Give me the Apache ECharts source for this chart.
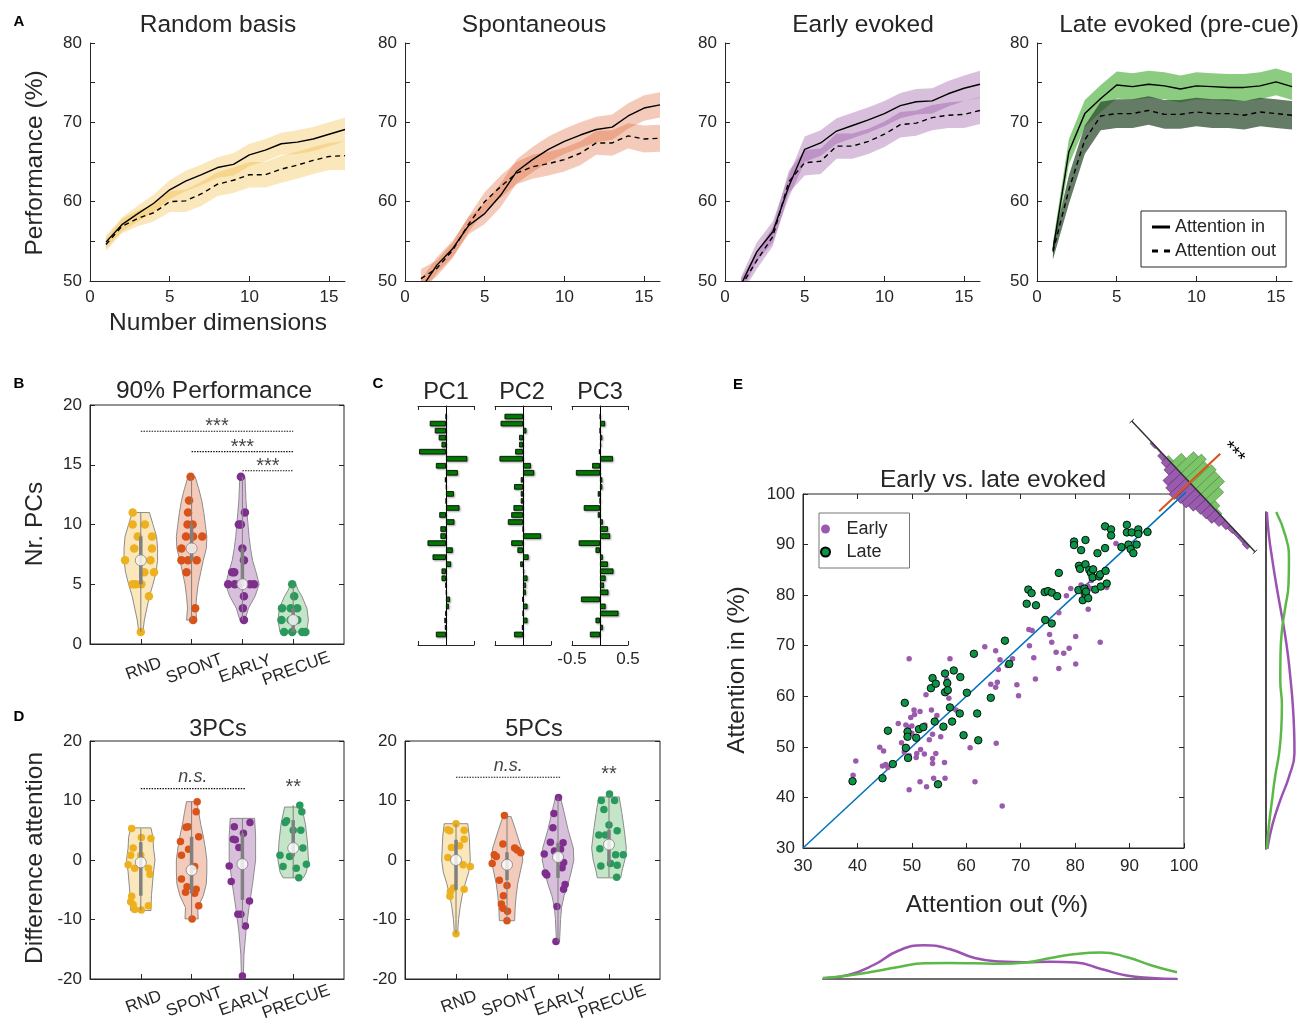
<!DOCTYPE html>
<html><head><meta charset="utf-8">
<script src="https://cdn.jsdelivr.net/npm/echarts@6/dist/echarts.min.js"></script>
<style>html,body{margin:0;padding:0;background:#fff}#c{width:1300px;height:1028px}</style>
</head><body><div id="c"></div><script>
const FONT = '"Liberation Sans", Arial, Helvetica, sans-serif';
const INK = '#262626';

// ---------------- Panel A data ----------------
const DIMS = [1,2,3,4,5,6,7,8,9,10,11,12,13,14,15,16];
const RB_IN  = [54.9,57.1,58.5,59.8,61.5,62.6,63.4,64.3,64.7,65.9,66.5,67.3,67.5,67.9,68.5,69.1];
const RB_OUT = [54.6,56.9,57.9,58.6,60.0,60.1,61.0,62.2,62.7,63.4,63.4,64.1,64.6,65.2,65.7,65.8];
const RB_IN_SEM  = [0.8,0.9,1.0,1.1,1.2,1.3,1.3,1.3,1.4,1.4,1.4,1.4,1.5,1.5,1.5,1.5];
const RB_OUT_SEM = [0.8,0.9,1.0,1.1,1.3,1.4,1.5,1.5,1.6,1.6,1.6,1.7,1.7,1.7,1.7,1.8];
const SP_IN  = [49.0,52.0,54.1,57.0,58.5,60.8,63.8,65.3,66.6,67.6,68.4,69.1,69.4,70.8,71.8,72.2];
const SP_OUT = [50.3,51.6,53.9,57.2,60.0,61.9,63.6,64.4,64.8,65.3,66.1,67.4,67.4,68.3,67.9,68.0];
const SP_IN_SEM  = [1.2,1.0,1.0,1.1,1.3,1.5,1.5,1.6,1.6,1.6,1.6,1.6,1.6,1.6,1.6,1.6];
const SP_OUT_SEM = [1.2,1.0,1.0,1.0,1.2,1.4,1.4,1.5,1.5,1.5,1.5,1.5,1.6,1.6,1.7,1.7];
const EE_IN  = [49.5,53.7,56.2,61.9,66.6,67.4,68.9,69.6,70.3,71.1,72.1,72.6,72.7,73.6,74.3,74.8];
const EE_OUT = [49.3,52.6,55.6,62.5,64.9,65.1,67.0,67.0,67.6,68.5,69.7,69.9,70.6,70.9,71.0,71.5];
const EE_IN_SEM  = [1.0,1.2,1.3,1.4,1.6,1.6,1.6,1.6,1.6,1.6,1.6,1.6,1.6,1.6,1.6,1.7];
const EE_OUT_SEM = [1.0,1.1,1.2,1.4,1.6,1.6,1.6,1.6,1.6,1.6,1.6,1.6,1.6,1.6,1.7,1.7];
const LE_IN  = [53.9,66.3,71.1,73.0,74.7,74.5,74.8,74.6,74.2,74.6,74.5,74.4,74.4,74.6,75.1,74.5];
const LE_OUT = [53.7,61.5,67.8,70.8,71.1,71.1,71.5,71.0,71.0,71.3,71.1,71.1,70.9,71.3,71.1,70.9];
const LE_IN_SEM  = [1.0,1.6,1.7,1.7,1.7,1.7,1.7,1.7,1.7,1.7,1.7,1.7,1.7,1.7,1.7,1.7];
const LE_OUT_SEM = [1.0,1.8,1.8,1.8,1.8,1.8,1.8,1.8,1.8,1.8,1.8,1.8,1.8,1.8,1.8,1.8];

// ---------------- Violin data: points [jitter, value], shapes [value, halfwidth], boxes [lo,q1,med,q3,hi] ----------------
const CATS = ['RND','SPONT','EARLY','PRECUE'];
const B_RND_PTS = [[-0.16,11],[-0.16,10],[0.08,10],[-0.06,9],[0.22,9],[-0.13,8],[0.22,8],[-0.31,7],[0,7],[0.19,7],[0.07,6],[0.26,6],[-0.16,5],[-0.10,5],[0.01,5],[0.16,4],[0,1]];
const B_SPONT_PTS = [[-0.02,14],[-0.05,12],[-0.07,11],[-0.08,10],[0.02,10],[-0.11,9],[0.03,9],[0.21,9],[-0.2,8],[0,8],[-0.2,7],[-0.07,7],[0.1,7],[-0.1,6],[0.07,3],[0.03,2]];
const B_EARLY_PTS = [[-0.03,14],[0.05,11],[-0.07,10],[-0.03,10],[0,8],[0.03,7],[-0.2,6],[-0.16,6],[-0.28,5],[-0.15,5],[-0.05,5],[0.15,5],[0.23,5],[0.03,4],[0.01,3],[0.03,2]];
const B_PRECUE_PTS = [[-0.02,5],[0.02,4],[-0.22,3],[-0.05,3],[0.08,3],[-0.23,2],[-0.05,2],[0.08,2],[-0.18,1],[-0.02,1],[0.18,1],[0.24,1]];
const B_RND_SHAPE = [[1,0.04],[2,0.07],[3,0.12],[4,0.17],[5,0.24],[6,0.30],[7,0.33],[8,0.33],[9,0.31],[10,0.24],[11,0.17]];
const B_SPONT_SHAPE = [[2,0.1],[3,0.08],[4,0.1],[5,0.13],[6,0.18],[7,0.23],[8,0.29],[9,0.30],[10,0.27],[11,0.24],[12,0.20],[13,0.14],[14,0.07]];
const B_EARLY_SHAPE = [[2,0.05],[3,0.12],[4,0.25],[5,0.33],[6,0.27],[7,0.2],[8,0.16],[9,0.13],[10,0.11],[11,0.09],[12,0.07],[13,0.06],[14,0.05]];
const B_PRECUE_SHAPE = [[1,0.26],[2,0.3],[3,0.27],[4,0.17],[4.5,0.1],[5,0.05]];
const B_BOX = [[1,5,7,9,11],[2,7,8,10,14],[2,5,5,8,14],[1,1,2,3,5]];
const B_SIG = [[1,4,17.8],[2,4,16.1],[3,4,14.5]];

const D3_RND_PTS = [[-0.18,5.3],[0.01,3.8],[0.2,3.6],[-0.15,2.0],[-0.2,0.8],[0,0.8],[-0.25,-0.8],[-0.12,-1.4],[0.15,-1.4],[0.18,-2.4],[-0.18,-6.1],[-0.2,-7.0],[0.15,-7.7],[-0.15,-7.5],[-0.12,-8.3],[0.01,-8.4]];
const D3_SPONT_PTS = [[0.11,9.8],[0.09,8.1],[-0.11,5.5],[-0.07,5.6],[0.14,3.9],[-0.22,3.1],[-0.06,1.8],[-0.2,0.8],[0.06,-1.1],[-0.2,-3.2],[-0.09,-4.5],[0.09,-4.9],[-0.12,-5.4],[0.06,-5.6],[0.14,-7.7],[0.01,-9.9]];
const D3_EARLY_PTS = [[0.15,6.3],[-0.16,5.6],[0.02,4.5],[-0.18,3.5],[-0.14,3.4],[-0.07,2.1],[-0.26,-1.0],[-0.22,-3.6],[0.14,-6.9],[-0.09,-9.1],[-0.03,-9.1],[0.06,-11.1],[0,-19.5]];
const D3_PRECUE_PTS = [[0.13,9.2],[0.17,8.1],[-0.13,6.6],[-0.16,6.3],[0,5.0],[0.15,5.0],[0.19,2.0],[-0.26,0.8],[-0.07,0.6],[0.26,-0.7],[-0.2,-1.1],[0.06,-1.4],[0.11,-3.0]];
const D3_RND_SHAPE = [[-8.5,0.2],[-8,0.2],[-6,0.21],[-4,0.23],[-2,0.25],[0,0.28],[2,0.25],[3.8,0.24],[5.4,0.2]];
const D3_SPONT_SHAPE = [[-9.9,0.13],[-8,0.12],[-6,0.23],[-4,0.29],[-2,0.3],[0,0.3],[2,0.27],[4,0.23],[6,0.18],[8,0.14],[9.8,0.1]];
const D3_EARLY_SHAPE = [[-19.5,0.02],[-16,0.03],[-12,0.07],[-8,0.13],[-4,0.2],[0,0.26],[4,0.26],[7,0.24]];
const D3_PRECUE_SHAPE = [[-3,0.2],[-2,0.26],[0,0.3],[3,0.28],[6,0.24],[8.9,0.17]];
const D3_BOX = [[-8.5,-6,-0.4,3,5.3],[-9.9,-5.6,-1.7,3.9,9.8],[-11.1,-6.7,-0.7,4.5,7.0],[-3,0.6,2.0,6.7,9.2]];

const D5_RND_PTS = [[0,6.1],[-0.16,5.1],[-0.12,4.9],[0.16,5.0],[0.16,3.5],[0.07,2.4],[-0.09,2.1],[-0.16,0.4],[0.14,-0.8],[0.28,-1.1],[-0.05,-4.7],[0.16,-4.9],[-0.11,-5.3],[-0.12,-6.1],[0,-12.4]];
const D5_SPONT_PTS = [[-0.05,7.5],[-0.08,2.7],[0.15,2.0],[0.2,1.7],[0.27,1.2],[-0.25,0.9],[-0.21,0.6],[-0.29,-0.6],[-0.15,-3.4],[0,-4.3],[-0.07,-6.0],[-0.11,-7.4],[-0.08,-8.1],[0.01,-8.6],[0,-10.2]];
const D5_EARLY_PTS = [[0.01,10.5],[-0.08,7.8],[-0.1,5.4],[-0.15,3.0],[0.1,2.9],[0.05,1.8],[-0.07,1.5],[-0.27,1.0],[0.11,-0.4],[0.08,-1.3],[-0.25,-2.2],[-0.22,-2.5],[0.14,-4.1],[0.11,-4.9],[-0.02,-7.8],[-0.04,-13.7]];
const D5_PRECUE_PTS = [[0.01,11.1],[-0.15,10.0],[0.11,10.0],[-0.1,8.5],[0,5.9],[0.16,4.9],[-0.2,4.2],[-0.07,4.2],[-0.18,1.9],[0.13,0.9],[0.28,0.9],[0.03,-0.6],[0.16,-0.9],[-0.16,-1.0],[0.15,-2.9]];
const D5_RND_SHAPE = [[-12.4,0.03],[-10,0.05],[-8,0.08],[-6,0.12],[-4,0.18],[-2,0.25],[0,0.28],[2,0.27],[4,0.26],[6.1,0.23]];
const D5_SPONT_SHAPE = [[-10.2,0.15],[-8,0.16],[-6,0.18],[-4,0.21],[-2,0.26],[0,0.31],[2,0.28],[5,0.17],[7.3,0.08]];
const D5_EARLY_SHAPE = [[-13.7,0.03],[-12,0.04],[-10,0.05],[-8,0.07],[-6,0.12],[-4,0.2],[-2,0.26],[0,0.31],[2,0.3],[5,0.2],[8,0.12],[10.5,0.05]];
const D5_PRECUE_SHAPE = [[-3,0.23],[-2,0.25],[0,0.31],[2,0.34],[5,0.3],[8,0.25],[10.6,0.2]];
const D5_BOX = [[-12.4,-5,0,3.4,6.1],[-10.2,-3.4,-0.8,1.3,7.5],[-13.7,-3.0,0.5,2.9,10.5],[-2.9,-0.6,2.6,5.1,11.1]];

// ---------------- Panel C data ----------------
const PC1 = [0,-0.29,-0.20,-0.13,-0.08,-0.48,0.38,-0.18,0.21,-0.02,0.01,0.14,0,0.24,-0.12,0.15,-0.10,-0.10,-0.33,0.12,-0.24,0.09,-0.08,-0.08,-0.01,0.01,0.07,0.05,-0.01,-0.03,-0.02,-0.18];
const PC2 = [-0.33,-0.40,0.06,-0.07,-0.07,-0.14,-0.42,0.14,0.20,-0.04,-0.16,-0.04,-0.04,-0.17,-0.21,-0.27,0,0.32,-0.21,-0.10,0.10,-0.05,0.02,0.08,0.05,0.05,-0.01,0.08,0,0.08,-0.02,-0.16];
const PC3 = [0.005,0.09,0,0.04,0.02,-0.02,0.23,-0.14,-0.43,0.04,0.04,-0.04,0,-0.29,-0.04,0.05,0.14,0.18,-0.38,-0.08,0.05,0.14,0.24,0.10,0.07,0.15,-0.34,0.10,0.33,-0.08,0.05,-0.18];

// ---------------- Panel E data: [attention out, attention in] ----------------
const EARLY_PTS = [[39.2,44.4],[39.7,47.2],[44.1,49.9],[44.8,49.2],[44.6,46.2],[45.2,46.5],[45.6,45.9],[47.5,54.6],[48.1,50.8],[48.6,49.0],[48.9,54.3],[49.4,53.9],[49.5,41.5],[49.5,48.3],[49.8,55.8],[50.0,54.1],[50.0,52.7],[50.4,57.3],[50.5,56.4],[50.8,47.9],[50.9,48.7],[51.5,57.0],[51.5,43.1],[51.6,49.5],[52.3,48.6],[52.4,54.3],[52.6,60.3],[52.7,42.1],[53.2,51.4],[53.6,57.3],[53.8,52.5],[53.8,47.7],[53.8,46.7],[54.0,43.8],[54.4,48.7],[54.6,56.2],[55.3,52.0],[56.0,46.9],[56.1,43.8],[49.5,67.4],[56.4,63.3],[56.8,59.6],[57.0,67.4],[58.1,57.3],[56.9,57.9],[60.7,49.8],[61.6,43.1],[63.4,69.8],[65.4,69.0],[66.2,67.2],[65.9,65.3],[64.5,62.4],[65.4,61.8],[65.5,50.7],[65.7,62.8],[66.6,38.3],[67.5,66.1],[68.5,67.4],[69.3,62.3],[69.6,60.1],[71.5,73.2],[72.1,73.0],[71.6,70.0],[72.4,67.6],[72.7,63.4],[75.3,72.2],[75.7,70.7],[76.5,68.7],[77.0,65.5],[77.0,76.5],[77.9,68.5],[78.4,79.9],[78.9,69.5],[79.2,81.3],[80.1,71.8],[80.1,66.4],[81.1,82.0],[81.5,80.2],[82.4,77.2],[83.0,81.3],[84.6,70.7],[85.8,81.5],[87.5,90.2],[83.0,82.9],[82.3,81.8]];
const LATE_PTS = [[39.1,43.2],[44.6,43.8],[45.6,53.2],[46.5,46.6],[48.7,58.7],[48.9,49.8],[49.2,53.0],[49.2,52.0],[49.3,47.8],[50.8,51.8],[51.3,53.5],[52.1,53.9],[53.5,61.6],[53.8,63.6],[54.2,55.0],[54.4,62.5],[55.8,54.0],[56.1,64.5],[56.1,60.8],[56.5,62.6],[56.6,61.2],[57.0,57.8],[57.4,55.0],[57.7,65.1],[58.8,56.6],[58.9,63.8],[59.5,52.3],[60.1,60.7],[61.4,68.4],[62.0,56.6],[62.2,51.3],[64.5,59.7],[67.1,71.0],[67.9,66.4],[54.8,42.6],[71.1,78.3],[71.4,81.1],[72.0,80.4],[72.8,78.0],[74.4,80.6],[74.5,75.1],[75.0,80.8],[75.7,74.4],[75.7,80.5],[76.7,79.8],[77.0,84.4],[79.8,90.6],[79.8,89.9],[80.6,81.0],[80.7,85.8],[80.9,85.2],[81.1,88.9],[81.4,79.0],[81.7,81.3],[81.9,90.9],[81.9,86.1],[81.9,80.2],[82.0,80.7],[82.4,79.4],[82.6,85.0],[82.9,84.4],[83.2,83.5],[83.3,85.1],[83.7,81.1],[84.1,88.3],[84.4,83.7],[84.6,84.1],[84.7,81.7],[85.5,89.3],[85.6,84.8],[85.8,82.3],[85.5,93.6],[86.6,93.0],[86.6,91.8],[88.5,89.5],[89.5,93.9],[89.5,92.4],[89.8,90.0],[90.2,89.1],[90.4,92.4],[90.7,88.3],[91.3,90.0],[91.6,93.0],[91.6,92.1],[93.3,92.5]];
const IDENTITY = [[30,30],[107.4,107.4]];
// diagonal histogram of (in - out)
const HIST_BINS  = [12.8,11.2,9.6,8.0,6.4,4.8,3.2,1.6,0,-1.6,-3.2,-4.8,-6.4,-8.0,-9.6,-11.2,-12.8,-14.4,-16.0,-17.6];
const HIST_LATE  = [0,0,0,1.5,7,12,14,12.5,14,13,13,9,3,1,0,0,0,0,0,0];
const HIST_EARLY = [1,0.5,2.5,3.5,5,9,10.5,11.5,10.5,10,8.5,7,6.5,6,4.5,3,2,1.5,1.5,2];
const HIST_BIN_W = 1.6;
const MEAN_SHIFT = [1.2];
// marginal densities
const KDE_X = [30,35,40,45,50,55,60,65,70,75,80,85,90,95,100];
const KDE_OUT_EARLY = [0.5,4,14,28.5,33.7,30,21,17.5,16.7,17.2,16.5,10,3.5,1,0];
const KDE_OUT_LATE  = [1,3.5,7.5,12,15.8,16,15.7,15.2,16.5,21,25,26.5,22,13.5,6.7];
const KDE_Y = [100,95,90,85,80,75,70,65,60,55,50,45,40,35,30];
const KDE_IN_EARLY = [1,3.5,7.5,12,17,22,26,29,31.5,33,33.5,27,16.5,7.5,1.5];
const KDE_IN_LATE  = [12,23,27,26.5,22.5,18.5,17,16.8,18.7,18,15.5,10.7,7,3.5,1];

// ---------------- build ----------------
const chart = echarts.init(document.getElementById('c'), null, {renderer:'canvas'});
const grid = [], xAxis = [], yAxis = [], series = [], graphic = [];
const addGrid = g => (grid.push(g), grid.length - 1);
const addX = a => (xAxis.push(Object.assign({splitLine:{show:false}}, a)), xAxis.length - 1);
const addY = a => (yAxis.push(Object.assign({splitLine:{show:false}}, a)), yAxis.length - 1);
const lbl = e => Object.assign({color:INK, fontSize:17, fontFamily:FONT}, e);
const tick = e => Object.assign({show:true, inside:true, length:5, lineStyle:{color:INK, width:1}}, e);
const axLine = {show:true, onZero:false, lineStyle:{color:INK, width:1}};

function addBand(xa, ya, mean, sem, fill) {
  const data = DIMS.map((d,k) => [d, mean[k]-sem[k], mean[k]+sem[k]]);
  series.push({type:'custom', xAxisIndex:xa, yAxisIndex:ya, clip:true, silent:true, z:2,
    data, encode:{x:0, y:[1,2]},
    renderItem(params, api) {
      if (params.dataIndex !== 0) return;
      const up = data.map(p => api.coord([p[0], p[2]]));
      const lo = data.map(p => api.coord([p[0], p[1]])).reverse();
      return {type:'polygon', shape:{points:up.concat(lo)}, style:{fill, stroke:null}};
    }});
}

const A_PANELS = [
  [RB_IN, RB_OUT, RB_IN_SEM, RB_OUT_SEM, 'rgba(237,177,32,0.30)', 'rgba(237,177,32,0.30)'],
  [SP_IN, SP_OUT, SP_IN_SEM, SP_OUT_SEM, 'rgba(217,83,25,0.30)', 'rgba(217,83,25,0.30)'],
  [EE_IN, EE_OUT, EE_IN_SEM, EE_OUT_SEM, 'rgba(126,47,142,0.30)', 'rgba(126,47,142,0.30)'],
  [LE_IN, LE_OUT, LE_IN_SEM, LE_OUT_SEM, 'rgba(62,170,45,0.60)', 'rgba(40,72,42,0.72)']
];
const A_LEFT = [90, 405, 725, 1037];
A_PANELS.forEach((p, i) => {
  const g = addGrid({left:A_LEFT[i], top:43, width:255, height:238});
  const xa = addX({gridIndex:g, type:'value', min:0, max:16, axisLine:axLine,
    axisTick:tick({customValues:[0,5,10,15]}), axisLabel:lbl({customValues:[0,5,10,15], margin:8})});
  const ya = addY({gridIndex:g, type:'value', min:50, max:80, axisLine:axLine,
    axisTick:tick({customValues:[50,55,60,65,70,75,80]}), axisLabel:lbl({customValues:[50,60,70,80], margin:8})});
  addBand(xa, ya, p[0], p[2], p[4]);
  addBand(xa, ya, p[1], p[3], p[5]);
  series.push({type:'line', name:'Attention in', xAxisIndex:xa, yAxisIndex:ya, z:4, symbol:'none', silent:true,
    data:DIMS.map((d,k)=>[d,p[0][k]]), lineStyle:{color:'#000', width:1.4}, itemStyle:{color:'#000'}});
  series.push({type:'line', name:'Attention out', xAxisIndex:xa, yAxisIndex:ya, z:4, symbol:'none', silent:true,
    data:DIMS.map((d,k)=>[d,p[1][k]]), lineStyle:{color:'#000', width:1.4, type:[5,4]}, itemStyle:{color:'#000'}});
});

// ---------------- violins ----------------
const DOT_COLORS = ['#EDB120','#D95319','#7E2F8E','#2A9A5C'];
const VIOLIN_FILLS = ['rgba(237,177,32,0.30)','rgba(217,83,25,0.30)','rgba(126,47,142,0.30)','rgba(70,175,85,0.32)'];
function violinPanel(box, ymin, ymax, yticks, pts, shapes, boxes, dotSize, labelMargin) {
  const g = addGrid(Object.assign({show:true, borderColor:INK, borderWidth:1, backgroundColor:'rgba(0,0,0,0)'}, box));
  const xa = addX({gridIndex:g, type:'value', min:0, max:5, axisLine:axLine,
    axisTick:tick({customValues:[1,2,3,4]}),
    axisLabel:lbl({customValues:[1,2,3,4], formatter:v => CATS[Math.round(v)-1] || '', rotate:20, align:'center', verticalAlign:'top', margin:labelMargin})});
  const ya = addY({gridIndex:g, type:'value', min:ymin, max:ymax, axisLine:axLine,
    axisTick:tick({customValues:yticks}), axisLabel:lbl({customValues:yticks, margin:8})});
  addY({gridIndex:g, type:'value', position:'right', min:ymin, max:ymax, axisLine:{show:false, onZero:false},
    axisTick:tick({customValues:yticks}), axisLabel:{show:false}});
  series.push({type:'custom', xAxisIndex:xa, yAxisIndex:ya, z:2, silent:true,
    data:shapes.map((s,i)=>[i+1, s[s.length-1][0]]), encode:{x:0, y:1},
    renderItem(params, api) {
      const i = params.dataIndex, c = i + 1, s = shapes[i];
      const right = s.map(p => api.coord([c + p[1], p[0]]));
      const left = s.slice().reverse().map(p => api.coord([c - p[1], p[0]]));
      return {type:'polygon', shape:{points:right.concat(left)}, style:{fill:VIOLIN_FILLS[i], stroke:'#8c8c8c', lineWidth:1}};
    }});
  pts.forEach((arr, i) => {
    series.push({type:'scatter', xAxisIndex:xa, yAxisIndex:ya, z:3, silent:true, symbolSize:dotSize,
      data:arr.map(p => [i + 1 + p[0], p[1]]), itemStyle:{color:DOT_COLORS[i], opacity:1}});
  });
  series.push({type:'custom', xAxisIndex:xa, yAxisIndex:ya, z:4, silent:true,
    data:boxes.map((b,i)=>[i+1].concat(b)), encode:{x:0, y:[1,5]},
    renderItem(params, api) {
      const c = api.value(0);
      const a = api.coord([c, api.value(1)]), b = api.coord([c, api.value(5)]);
      const q1 = api.coord([c, api.value(2)]), q3 = api.coord([c, api.value(4)]);
      return {type:'group', children:[
        {type:'line', shape:{x1:a[0], y1:a[1], x2:b[0], y2:b[1]}, style:{stroke:'#808080', lineWidth:1}},
        {type:'line', shape:{x1:q1[0], y1:q1[1], x2:q3[0], y2:q3[1]}, style:{stroke:'#808080', lineWidth:3.5}}
      ]};
    }});
  series.push({type:'scatter', xAxisIndex:xa, yAxisIndex:ya, z:5, silent:true, symbolSize:11,
    data:boxes.map((b,i)=>[i+1, b[2]]), itemStyle:{color:'#fff', borderColor:'#808080', borderWidth:1}});
  return {xa, ya};
}
function sigLine(v, x1, x2, y, text, italic, dist, size) {
  series.push({type:'line', xAxisIndex:v.xa, yAxisIndex:v.ya, z:6, silent:true, symbol:'none',
    data:[[x1,y],[x2,y]], lineStyle:{color:'#111', width:1.1, type:[1.5,1.2]}});
  sigText(v, (x1+x2)/2, y, text, italic, 'top', dist, size);
}
function sigText(v, x, y, text, italic, pos, dist, size) {
  series.push({type:'scatter', xAxisIndex:v.xa, yAxisIndex:v.ya, z:6, silent:true, symbolSize:1,
    itemStyle:{color:'rgba(0,0,0,0)'}, data:[[x,y]],
    label:{show:true, position:pos, distance:dist, formatter:text, color:'#111', fontSize:size,
      fontStyle:italic ? 'italic' : 'normal', fontFamily:FONT}});
}

const vB = violinPanel({left:90, top:405, width:254, height:239}, 0, 20, [0,5,10,15,20],
  [B_RND_PTS,B_SPONT_PTS,B_EARLY_PTS,B_PRECUE_PTS], [B_RND_SHAPE,B_SPONT_SHAPE,B_EARLY_SHAPE,B_PRECUE_SHAPE], B_BOX, 8.5, 17);
B_SIG.forEach(s => sigLine(vB, s[0], s[1], s[2], '***', false, -6, 20));

const vD3 = violinPanel({left:90, top:741, width:254, height:238}, -20, 20, [-20,-10,0,10,20],
  [D3_RND_PTS,D3_SPONT_PTS,D3_EARLY_PTS,D3_PRECUE_PTS], [D3_RND_SHAPE,D3_SPONT_SHAPE,D3_EARLY_SHAPE,D3_PRECUE_SHAPE], D3_BOX, 7.5, 15);
sigLine(vD3, 1, 3.05, 12, 'n.s.', true, 2, 18);
sigText(vD3, 4, 12.2, '**', false, 'inside', 0, 20);

const vD5 = violinPanel({left:405, top:741, width:255, height:238}, -20, 20, [-20,-10,0,10,20],
  [D5_RND_PTS,D5_SPONT_PTS,D5_EARLY_PTS,D5_PRECUE_PTS], [D5_RND_SHAPE,D5_SPONT_SHAPE,D5_EARLY_SHAPE,D5_PRECUE_SHAPE], D5_BOX, 7.5, 15);
sigLine(vD5, 1, 3.05, 13.9, 'n.s.', true, 2, 18);
sigText(vD5, 4, 14.3, '**', false, 'inside', 0, 20);

// ---------------- Panel C ----------------
const PC_SETS = [PC1, PC2, PC3];
const PC_LEFT = [418, 495, 572];
const ROWS = [''].concat(PC1.map((_, k) => String(k + 1))).concat(['']);
PC_SETS.forEach((vals, i) => {
  const g = addGrid({left:PC_LEFT[i], top:406, width:56, height:239});
  const last = i === 2;
  const xa = addX({gridIndex:g, type:'value', min:-0.5, max:0.5, axisLine:axLine,
    axisTick:tick({length:4, customValues:[-0.5,0.5]}),
    axisLabel:last ? lbl({customValues:[-0.5,0.5], margin:6}) : {show:false}});
  addX({gridIndex:g, type:'value', position:'top', min:-0.5, max:0.5, axisLine:axLine,
    axisTick:tick({length:4, customValues:[-0.5,0.5]}), axisLabel:{show:false}});
  const ya = addY({gridIndex:g, type:'category', data:ROWS, inverse:true,
    axisLine:{show:true, onZero:true, lineStyle:{color:'#000', width:1}}, axisTick:{show:false}, axisLabel:{show:false}});
  series.push({type:'bar', xAxisIndex:xa, yAxisIndex:ya, barWidth:5.5, silent:true, z:3,
    data:['-'].concat(vals).concat(['-']),
    itemStyle:{color:'#008000', borderColor:'#000', borderWidth:0.8,
      shadowBlur:2, shadowColor:'rgba(0,0,0,0.35)', shadowOffsetX:1, shadowOffsetY:1}});
});

// ---------------- Panel E ----------------
const gE = addGrid({left:803, top:494, width:381, height:354, show:true, borderColor:INK, borderWidth:1, backgroundColor:'rgba(0,0,0,0)'});
const xE = addX({gridIndex:gE, type:'value', min:30, max:100, interval:10, axisLine:axLine,
  axisTick:tick({}), axisLabel:lbl({margin:10})});
addX({gridIndex:gE, type:'value', position:'top', min:30, max:100, interval:10, axisLine:{show:false, onZero:false},
  axisTick:tick({}), axisLabel:{show:false}});
const yE = addY({gridIndex:gE, type:'value', min:30, max:100, interval:10, axisLine:axLine,
  axisTick:tick({}), axisLabel:lbl({margin:8})});
addY({gridIndex:gE, type:'value', position:'right', min:30, max:100, interval:10, axisLine:{show:false, onZero:false},
  axisTick:tick({}), axisLabel:{show:false}});
series.push({type:'line', xAxisIndex:xE, yAxisIndex:yE, data:IDENTITY, clip:false, symbol:'none', silent:true, z:3,
  lineStyle:{color:'#0072BD', width:1.5}});
series.push({type:'scatter', name:'Early', xAxisIndex:xE, yAxisIndex:yE, data:EARLY_PTS, symbolSize:5.5, z:4, silent:true,
  itemStyle:{color:'#9B5BAD', opacity:1}});
series.push({type:'scatter', name:'Late', xAxisIndex:xE, yAxisIndex:yE, data:LATE_PTS, symbolSize:7.5, z:5, silent:true,
  itemStyle:{color:'#0B9447', borderColor:'#000', borderWidth:0.9, opacity:1}});

// rotated histogram (frame perpendicular to the identity line)
const gH = addGrid({left:1103.5, top:436.4, width:179.7, height:100});
const xH = addX({gridIndex:gH, type:'value', min:-20, max:20, inverse:true, show:false});
const yH = addY({gridIndex:gH, type:'value', min:-25, max:25, show:false});
const ROT = 0.815;
function rotAbout(p, c) {
  const dx = p[0]-c[0], dy = p[1]-c[1], cs = Math.cos(ROT), sn = Math.sin(ROT);
  return [c[0] + dx*cs - dy*sn, c[1] + dx*sn + dy*cs];
}
function histSeries(vals, sign, fill, edge) {
  series.push({type:'custom', xAxisIndex:xH, yAxisIndex:yH, z:2, silent:true,
    data:HIST_BINS.map((d,k)=>[d, sign*vals[k]]), encode:{x:0, y:1},
    renderItem(params, api) {
      const d = api.value(0), cnt = api.value(1);
      if (!cnt) return;
      const c0 = api.coord([0,0]);
      const pts = [[d-HIST_BIN_W/2,0],[d+HIST_BIN_W/2,0],[d+HIST_BIN_W/2,cnt],[d-HIST_BIN_W/2,cnt]]
        .map(p => rotAbout(api.coord(p), c0));
      return {type:'polygon', shape:{points:pts}, style:{fill, stroke:edge, lineWidth:0.6}};
    }});
}
histSeries(HIST_LATE, 1, '#7CC468', '#4d7d45');
histSeries(HIST_EARLY, -1, '#9A5AB0', '#4e2d5a');
series.push({type:'custom', xAxisIndex:xH, yAxisIndex:yH, z:3, silent:true,
  data:[[20,-20]], encode:{x:[0,1]},
  renderItem(params, api) {
    const c0 = api.coord([0,0]);
    const a = rotAbout(api.coord([api.value(0),0]), c0), b = rotAbout(api.coord([api.value(1),0]), c0);
    const t = (x, s) => rotAbout(api.coord([x, s]), c0);
    const ta1 = t(api.value(0), 1.5), ta2 = t(api.value(0), -1.5), tb1 = t(api.value(1), 1.5), tb2 = t(api.value(1), -1.5);
    return {type:'group', children:[
      {type:'line', shape:{x1:a[0], y1:a[1], x2:b[0], y2:b[1]}, style:{stroke:'#333', lineWidth:1.5}},
      {type:'line', shape:{x1:ta1[0], y1:ta1[1], x2:ta2[0], y2:ta2[1]}, style:{stroke:'#333', lineWidth:1}},
      {type:'line', shape:{x1:tb1[0], y1:tb1[1], x2:tb2[0], y2:tb2[1]}, style:{stroke:'#333', lineWidth:1}}
    ]};
  }});
series.push({type:'custom', xAxisIndex:xH, yAxisIndex:yH, z:3, silent:true,
  data:MEAN_SHIFT.map(m => [m, -21, 21]), encode:{x:0, y:[1,2]},
  renderItem(params, api) {
    const c0 = api.coord([0,0]);
    const a = rotAbout(api.coord([api.value(0), api.value(1)]), c0), b = rotAbout(api.coord([api.value(0), api.value(2)]), c0);
    return {type:'line', shape:{x1:a[0], y1:a[1], x2:b[0], y2:b[1]}, style:{stroke:'#D95319', lineWidth:2}};
  }});

// marginal densities
const gKB = addGrid({left:823, top:939, width:354, height:40});
const xKB = addX({gridIndex:gKB, type:'value', min:30, max:100, axisLine:{show:true, onZero:false, lineStyle:{color:'#6e6e6e', width:2}}, axisTick:{show:false}, axisLabel:{show:false}});
const yKB = addY({gridIndex:gKB, type:'value', min:0, max:40, show:false});
series.push({type:'line', xAxisIndex:xKB, yAxisIndex:yKB, symbol:'none', smooth:0.5, silent:true, z:3,
  data:KDE_X.map((x,k)=>[x, KDE_OUT_EARLY[k]]), lineStyle:{color:'#9B52B2', width:2.5}});
series.push({type:'line', xAxisIndex:xKB, yAxisIndex:yKB, symbol:'none', smooth:0.5, silent:true, z:3,
  data:KDE_X.map((x,k)=>[x, KDE_OUT_LATE[k]]), lineStyle:{color:'#5CB947', width:2.5}});
const gKR = addGrid({left:1266, top:512, width:40, height:337});
const xKR = addX({gridIndex:gKR, type:'value', min:0, max:40, show:false});
const yKR = addY({gridIndex:gKR, type:'value', min:30, max:100, axisLine:{show:true, lineStyle:{color:'#111', width:1.5}}, axisTick:{show:false}, axisLabel:{show:false}});
series.push({type:'line', xAxisIndex:xKR, yAxisIndex:yKR, symbol:'none', smooth:0.5, silent:true, z:3,
  data:KDE_Y.map((y,k)=>[KDE_IN_EARLY[k], y]), lineStyle:{color:'#9B52B2', width:2.5}});
series.push({type:'line', xAxisIndex:xKR, yAxisIndex:yKR, symbol:'none', smooth:0.5, silent:true, z:3,
  data:KDE_Y.map((y,k)=>[KDE_IN_LATE[k], y]), lineStyle:{color:'#5CB947', width:2.5}});

// ---------------- texts ----------------
function txt(text, x, y, size, opts) {
  graphic.push(Object.assign({type:'text', x, y, silent:true, z:100,
    style:Object.assign({text, fontSize:size, fontFamily:FONT, fill:INK, align:'center', verticalAlign:'middle'}, (opts && opts.style) || {})},
    opts && opts.rotation !== undefined ? {rotation:opts.rotation} : {}));
}
const bold = {style:{fontWeight:'bold', fill:'#000'}};
const T = 24.5;
txt('A', 19, 22, 15, bold); txt('B', 19, 384, 15, bold); txt('C', 378, 384, 15, bold);
txt('D', 19, 717, 15, bold); txt('E', 738, 385, 15, bold);
txt('Random basis', 218, 25, T); txt('Spontaneous', 534, 25, T);
txt('Early evoked', 863, 25, T); txt('Late evoked (pre-cue)', 1179, 25, T);
txt('Performance (%)', 35, 163, T, {rotation:Math.PI/2});
txt('Number dimensions', 218, 323, T);
txt('90% Performance', 214, 391, T);
txt('Nr. PCs', 35, 524, T, {rotation:Math.PI/2});
txt('PC1', 446, 393, 23.5); txt('PC2', 522, 393, 23.5); txt('PC3', 600, 393, 23.5);
txt('3PCs', 218, 730, 23.5); txt('5PCs', 534, 730, 23.5);
txt('Difference attention', 35, 858, T, {rotation:Math.PI/2});
txt('Early vs. late evoked', 993, 480, T);
txt('Attention out (%)', 997, 905, T);
txt('Attention in (%)', 737, 670, T, {rotation:Math.PI/2});
txt('***', 1233, 453, 20, {rotation:-ROT, style:{fill:'#000'}});

chart.setOption({
  animation:false,
  backgroundColor:'#fff',
  textStyle:{fontFamily:FONT},
  grid, xAxis, yAxis, series, graphic,
  legend:[
    {data:[{name:'Attention in', icon:'path://M0,0h18v3h-18z'},{name:'Attention out', icon:'path://M0,0h6v3h-6z M12,0h6v3h-6z'}],
      orient:'vertical', left:1141, top:211, padding:[7,10,7,11], itemGap:6,
      itemWidth:18, itemHeight:3, borderColor:INK, borderWidth:1, borderRadius:0, backgroundColor:'#fff', selectedMode:false,
      itemStyle:{color:'#000', borderWidth:0}, textStyle:{fontSize:18, color:INK, fontFamily:FONT}},
    {data:[{name:'Early', icon:'circle'},{name:'Late', icon:'circle'}], orient:'vertical', left:819, top:513, padding:[7,22,7,1], itemGap:5,
      itemWidth:32, itemHeight:9, borderColor:'#777', borderWidth:1, borderRadius:0, backgroundColor:'#fff', selectedMode:false,
      textStyle:{fontSize:18, color:INK, fontFamily:FONT}}
  ]
});
</script></body></html>
